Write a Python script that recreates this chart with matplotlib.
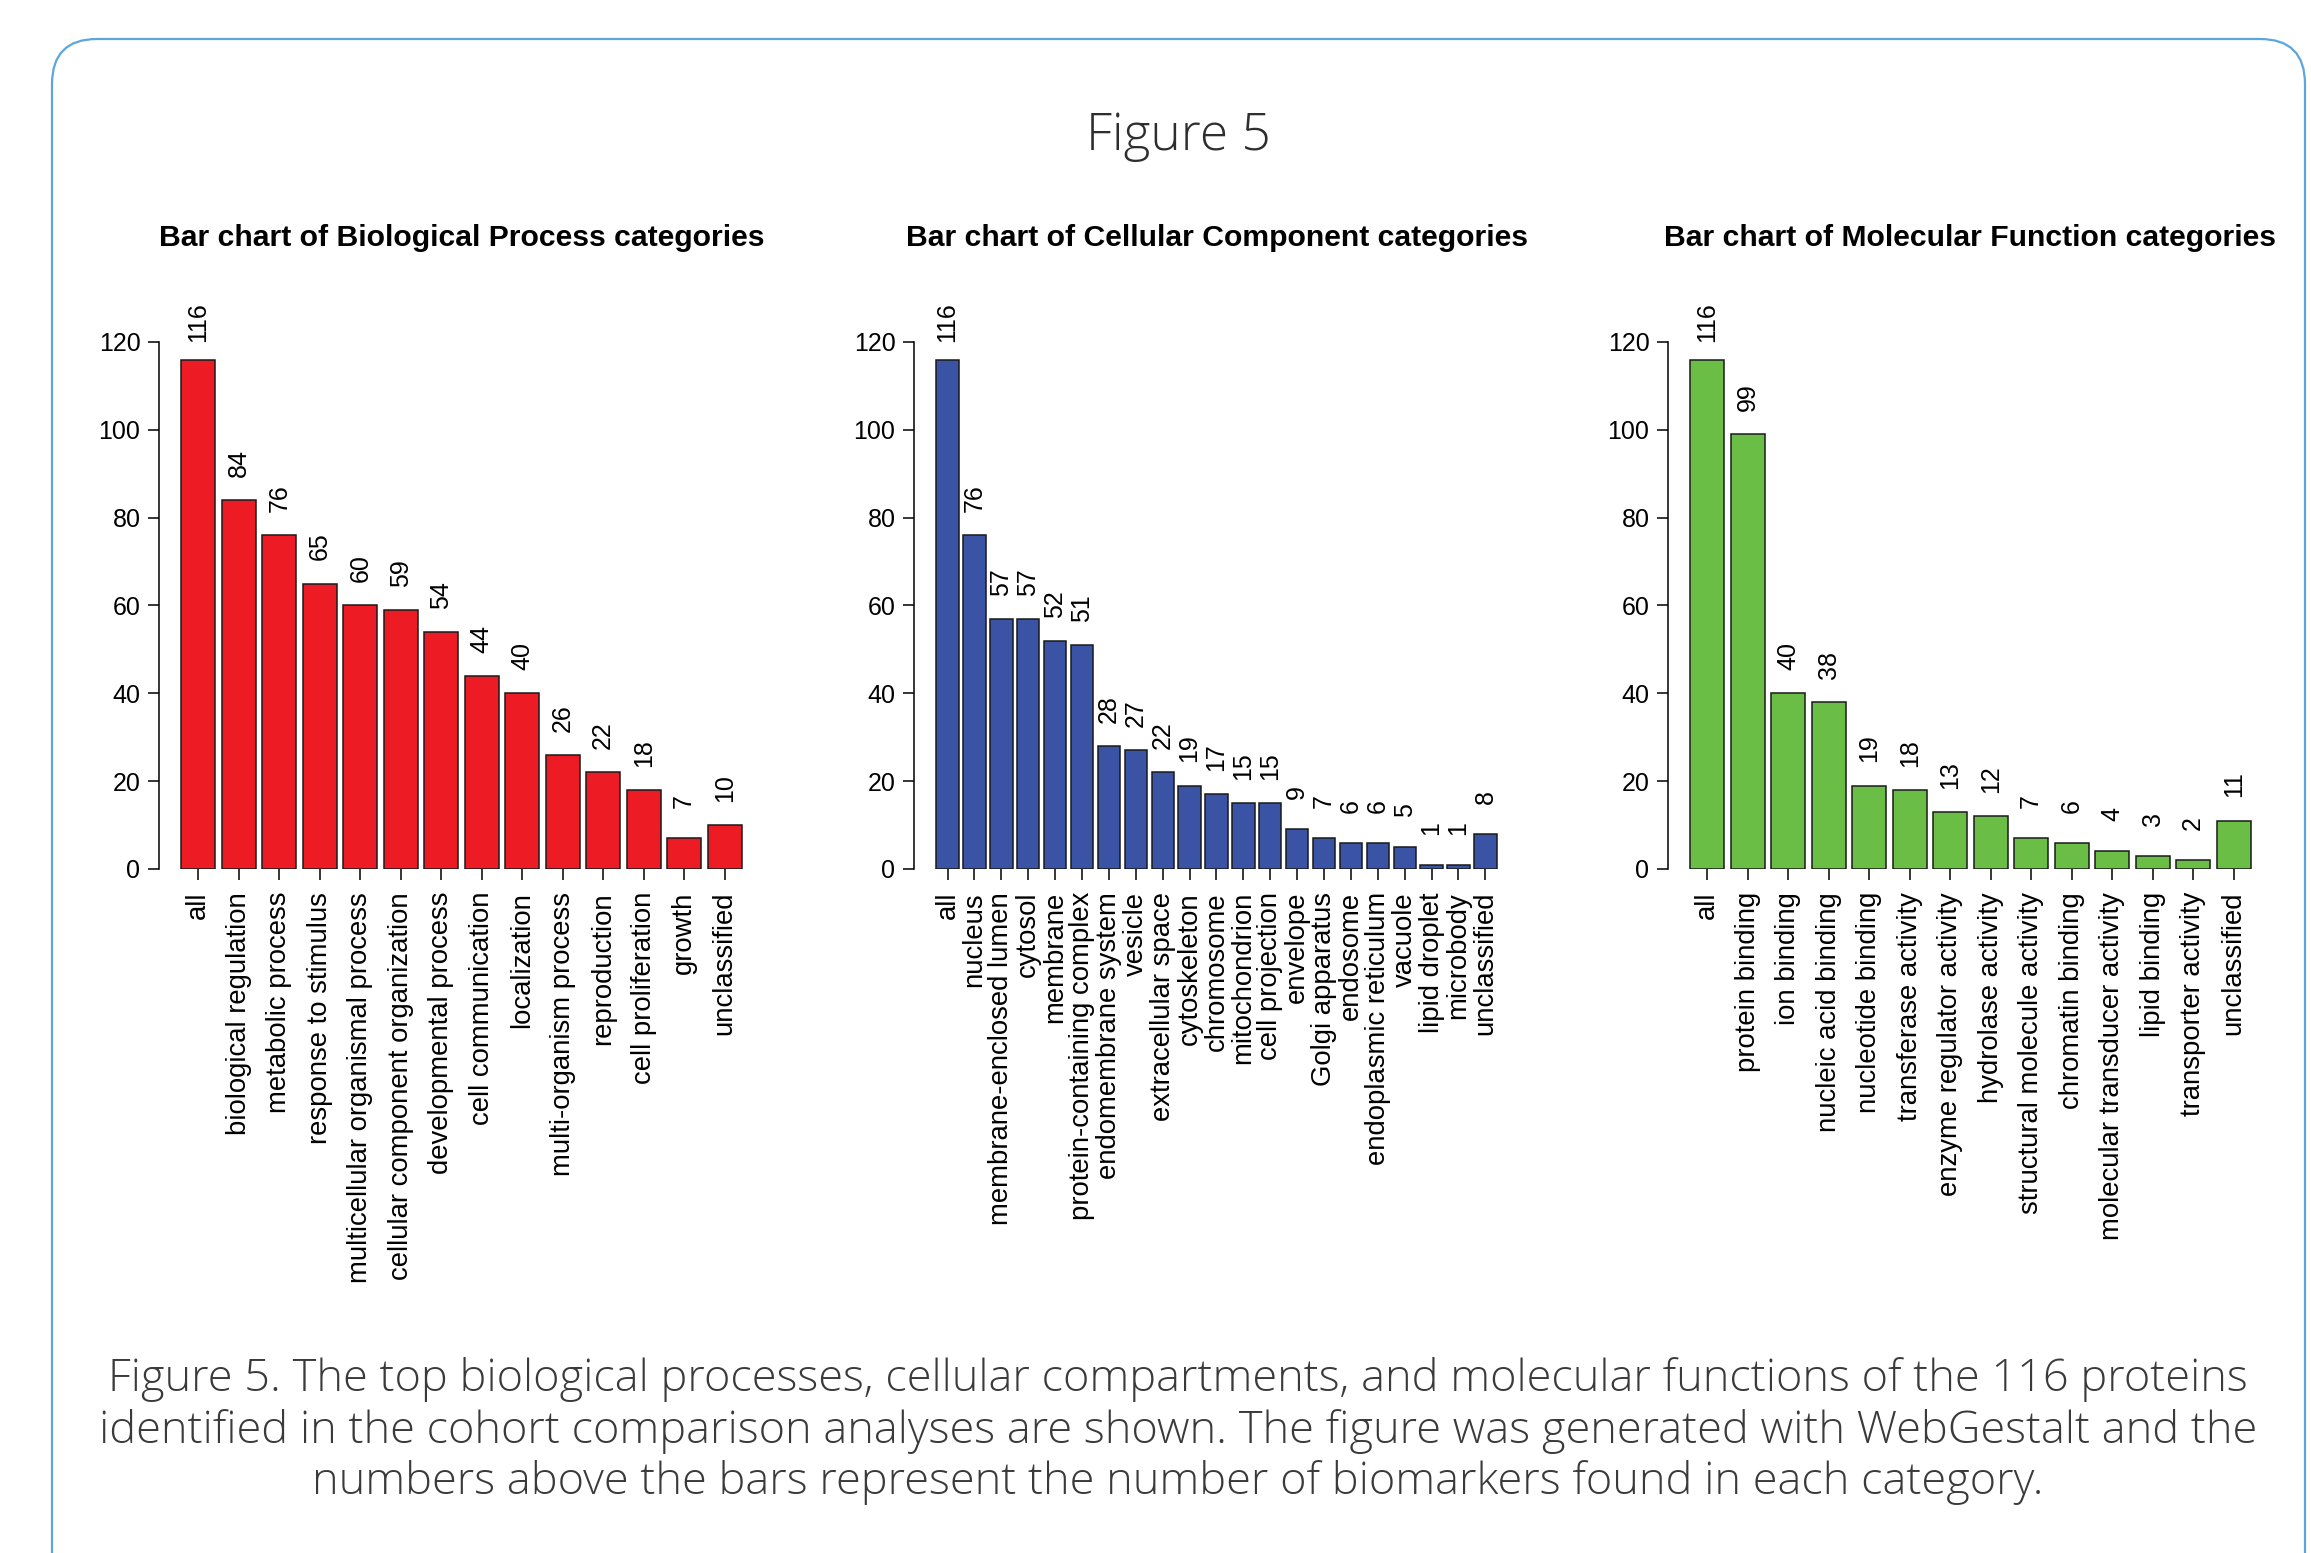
import numpy as np
import matplotlib
matplotlib.use("Agg")
import matplotlib.pyplot as plt
from matplotlib.patches import FancyBboxPatch
from matplotlib.transforms import IdentityTransform

# data
bp_names = ["all", "biological regulation", "metabolic process", "response to stimulus",
            "multicellular organismal process", "cellular component organization",
            "developmental process", "cell communication", "localization",
            "multi-organism process", "reproduction", "cell proliferation", "growth",
            "unclassified"]
bp_counts = [116, 84, 76, 65, 60, 59, 54, 44, 40, 26, 22, 18, 7, 10]

cc_names = ["all", "nucleus", "membrane-enclosed lumen", "cytosol", "membrane",
            "protein-containing complex", "endomembrane system", "vesicle",
            "extracellular space", "cytoskeleton", "chromosome", "mitochondrion",
            "cell projection", "envelope", "Golgi apparatus", "endosome",
            "endoplasmic reticulum", "vacuole", "lipid droplet", "microbody",
            "unclassified"]
cc_counts = [116, 76, 57, 57, 52, 51, 28, 27, 22, 19, 17, 15, 15, 9, 7, 6, 6, 5, 1, 1, 8]

mf_names = ["all", "protein binding", "ion binding", "nucleic acid binding",
            "nucleotide binding", "transferase activity", "enzyme regulator activity",
            "hydrolase activity", "structural molecule activity", "chromatin binding",
            "molecular transducer activity", "lipid binding", "transporter activity",
            "unclassified"]
mf_counts = [116, 99, 40, 38, 19, 18, 13, 12, 7, 6, 4, 3, 2, 11]

titles = ["Bar chart of Biological Process categories",
          "Bar chart of Cellular Component categories",
          "Bar chart of Molecular Function categories"]
colors = ["#ED1C24", "#3A53A4", "#6ABD45"]
yticks = [0, 20, 40, 60, 80, 100, 120]

caption = ("Figure 5. The top biological processes, cellular compartments, and molecular functions of the 116 proteins\n"
           "identified in the cohort comparison analyses are shown. The figure was generated with WebGestalt and the\n"
           "numbers above the bars represent the number of biomarkers found in each category.")

W, H = 2311, 1553
fig = plt.figure(figsize=(W / 100, H / 100), dpi=100)
plt.rcParams['font.family'] = ['Liberation Sans', 'DejaVu Sans']

# rounded frame around the figure
frame = FancyBboxPatch((52, -80), 2305 - 52, (H - 39) + 80, boxstyle="round,pad=0,rounding_size=45",
                       transform=IdentityTransform(), facecolor="none", edgecolor="#5DA5DD", linewidth=1.6)
fig.patches.append(frame)

fig.text(1178 / W, 1 - 136 / H, "Figure 5", ha="center", va="center", fontsize=37,
         family=["Open Sans", "DejaVu Sans"], fontweight="light", color="#2e2e2e")
fig.text(1178 / W, 1 - 1431 / H, caption, ha="center", va="center", fontsize=32.5,
         family=["Open Sans", "DejaVu Sans"], fontweight="light", color="#3a3a3a", linespacing=1.2)

panel_left = [159, 914, 1668]
panel_w = 605
y0_px, px_per_unit, ytop = 869, 4.392, 125

datasets = [(bp_names, bp_counts), (cc_names, cc_counts), (mf_names, mf_counts)]

for k, (names, counts) in enumerate(datasets):
    ax = fig.add_axes([panel_left[k] / W, (H - y0_px) / H, panel_w / W, ytop * px_per_unit / H])
    n = len(counts)
    x = 0.7 + 1.2 * np.arange(n)
    ax.bar(x, counts, width=1.0, color=colors[k], edgecolor="#1a1a1a", linewidth=1.1)
    lo, hi = 0.2, 1.2 * n
    ext = 0.04 * (hi - lo)
    ax.set_xlim(lo - ext, hi + ext)
    ax.set_ylim(0, ytop)

    for xi, v in zip(x, counts):
        ax.annotate(str(v), (xi, v), xytext=(0, 26.6), textcoords="offset points",
                    rotation=90, ha="center", va="center", fontsize=18, annotation_clip=False)

    for s in ["top", "right", "bottom"]:
        ax.spines[s].set_visible(False)
    ax.spines["left"].set_bounds(0, 120)
    ax.spines["left"].set_linewidth(1.1)
    ax.set_yticks(yticks)
    ax.set_xticks(x)
    ax.set_xticklabels(names, rotation=90, fontsize=19.8)
    ax.tick_params(axis="y", length=7.9, width=1.1, pad=5.5, labelsize=18)
    ax.tick_params(axis="x", length=7.9, width=1.1, pad=8.6)
    ax.patch.set_alpha(0)

    cx = (panel_left[k] + panel_w / 2) / W
    fig.text(cx, 1 - 238 / H, titles[k], ha="center", va="center", fontsize=21.7, fontweight="bold")

fig.savefig("out.png", dpi=100)
